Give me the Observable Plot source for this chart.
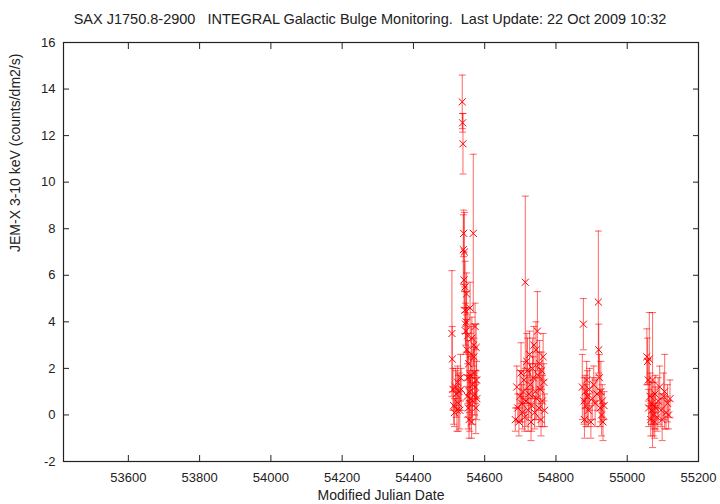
<!DOCTYPE html>
<html>
<head>
<meta charset="utf-8">
<script src="https://cdn.jsdelivr.net/npm/d3@7"></script>
<script src="https://cdn.jsdelivr.net/npm/@observablehq/plot@0.6"></script>
<style>
  html, body { margin: 0; padding: 0; background: #fff; }
  #chart svg { display: block; }
</style>
</head>
<body>
<div id="chart"></div>
<script>
// Observation dates (MJD)
const mjd = [
  54508, 54509, 54511, 54513, 54515, 54518, 54520, 54522, 54524, 54526, 54528, 54530, 54532, 54534,
  54537, 54538, 54539, 54540, 54541, 54542, 54543, 54544, 54545, 54546, 54547, 54548, 54549, 54550,
  54551, 54552, 54553, 54554, 54555, 54556, 54557, 54558, 54559, 54560, 54561, 54562, 54563, 54564,
  54565, 54566, 54568, 54569, 54570, 54571, 54572, 54573, 54574, 54575, 54576, 54577, 54578,
  54686, 54690, 54693, 54696, 54699, 54702, 54704, 54706, 54708, 54710, 54712, 54714, 54716, 54718,
  54720, 54722, 54724, 54726, 54728, 54730, 54732, 54734, 54736, 54738, 54740, 54742, 54744, 54746,
  54748, 54750, 54752, 54754, 54756, 54758, 54760, 54762, 54764, 54766, 54768,
  54877, 54874, 54879, 54880, 54882, 54884, 54886, 54888, 54891, 54894, 54898, 54902, 54906, 54910,
  54915, 54919, 54920, 54922, 54924, 54926, 54928, 54930, 54932, 54935,
  55055, 55057, 55059, 55060, 55062, 55064, 55066, 55068, 55069, 55071, 55073, 55075, 55077, 55078,
  55080, 55084, 55087, 55091, 55095, 55098, 55102, 55105, 55109, 55113, 55116, 55120
];
// JEM-X 3-10 keV rate (counts/dm2/s)
const rate = [
  3.5, 2.4, 1.1, 0.4, 0.1, 1.2, 0.9, 0.2, 1.4, 0.5, 1.0, 0.2, 1.6, 1.1,
  13.45, 12.55, 11.65, 7.1, 7.8, 5.8, 7.0, 4.5, 5.5, 3.9, 3.6, 4.0, 5.2, 2.8,
  0.8, 3.4, 1.6, 0.3, 2.2, -0.2, 1.0, 0.5, 4.6, 1.7, 0.7, 2.6, -0.3, 3.3,
  1.3, 0.6, 7.8, 3.0, 2.5, 1.8, 0.9, 3.8, 1.2, 0.3, 2.9, 1.5, 0.7,
  -0.2, 1.2, 0.3, -0.3, 0.8, 1.8, 0.5, 0.1, 1.0, 1.5, -0.1, 5.7, 0.6, 2.3,
  1.9, 0.2, 0.9, 2.6, 1.3, -0.3, 0.4, 2.0, 1.6, 3.0, 0.1, 1.0, 2.8, 0.7,
  3.6, 1.7, 0.3, 2.2, 1.1, -0.2, 1.9, 0.6, 2.5, 1.4, 0.2,
  3.9, 1.2, 0.6, -0.2, 1.0, 0.4, 1.5, 0.8, 0.2, 1.1, -0.3, 0.7, 1.3, 0.5,
  0.9, 4.85, 2.8, 1.6, 0.3, 1.0, 0.0, 0.6, -0.3, 0.4,
  2.5, 2.3, 1.5, 0.3, 2.4, 0.8, -0.2, 0.5, 0.2, 1.5, 0.0, 0.4, -0.3, 0.9,
  0.3, -0.1, 0.6, 1.2, 0.2, -0.2, 0.8, 1.0, 0.1, 0.5, 0.0, 0.7
];
// 1-sigma errors
const err = [
  2.7, 1.4, 0.9, 0.8, 0.6, 0.8, 1.0, 0.9, 0.7, 1.2, 0.8, 0.8, 1.0, 0.9,
  1.15, 0.4, 1.3, 1.5, 1.0, 1.2, 1.7, 1.0, 1.1, 0.9, 1.0, 1.3, 0.9, 1.3,
  0.9, 1.2, 1.1, 0.9, 1.0, 0.8, 0.9, 1.2, 1.1, 0.8, 0.9, 1.2, 0.7, 0.9,
  1.3, 1.0, 3.4, 0.9, 0.8, 1.1, 0.9, 1.0, 0.7, 1.1, 1.0, 0.8, 0.9,
  0.5, 0.9, 0.6, 0.6, 1.1, 1.3, 0.8, 0.7, 0.9, 0.8, 0.6, 3.7, 1.1, 1.2,
  1.4, 0.9, 1.0, 1.0, 0.9, 0.8, 1.1, 1.3, 0.9, 0.8, 0.7, 1.2, 1.2, 0.9,
  1.7, 1.0, 0.8, 1.0, 0.9, 0.7, 0.8, 1.1, 1.0, 0.8, 0.7,
  1.1, 1.4, 1.0, 0.8, 0.7, 0.9, 0.8, 1.1, 0.7, 0.9, 0.7, 0.9, 0.8, 1.0,
  0.7, 3.05, 1.1, 1.0, 0.8, 1.3, 0.9, 0.7, 0.8, 0.6,
  1.2, 1.0, 0.9, 0.8, 2.0, 1.0, 0.7, 0.9, 0.6, 2.9, 0.9, 1.0, 0.7, 0.8,
  0.9, 0.6, 1.0, 0.9, 0.7, 0.9, 1.0, 1.6, 0.7, 0.8, 0.6, 0.8
];
const xTicks = [53600, 53800, 54000, 54200, 54400, 54600, 54800, 55000, 55200];
const yTicks = [-2, 0, 2, 4, 6, 8, 10, 12, 14, 16];
const titleText = "SAX J1750.8-2900   INTEGRAL Galactic Bulge Monitoring.  Last Update: 22 Oct 2009 10:32";
const xLabel = "Modified Julian Date";
const yLabel = "JEM-X 3-10 keV (counts/dm2/s)";

const data = mjd.map((d, i) => ({mjd: d, rate: rate[i], err: err[i]}));

const capSymbol = {
  draw(context, size) {
    const r = Math.sqrt(size / Math.PI);
    context.moveTo(-r, 0);
    context.lineTo(r, 0);
  }
};

const RED = "#ff0000";
const INK = "#222";

const chart = Plot.plot({
  width: 720,
  height: 504,
  marginLeft: 63,
  marginRight: 22,
  marginTop: 42,
  marginBottom: 43,
  style: {fontFamily: "'Liberation Sans', Arial, Helvetica, sans-serif", fontSize: "13px", color: INK, background: "#fff"},
  x: {domain: [53418, 55200]},
  y: {domain: [-2, 16]},
  marks: [
    Plot.axisX({anchor: "bottom", ticks: xTicks, tickSize: 0, tickPadding: 11, tickFormat: d => String(d), label: null, fill: INK}),
    Plot.axisX({anchor: "bottom", ticks: xTicks, tickSize: -6, tickFormat: () => "", label: null, stroke: INK}),
    Plot.axisX({anchor: "top", ticks: xTicks, tickSize: -6, tickFormat: () => "", label: null, stroke: INK}),
    Plot.axisY({anchor: "left", ticks: yTicks, tickSize: 0, tickPadding: 8, tickFormat: d => String(d), label: null, fill: INK}),
    Plot.axisY({anchor: "left", ticks: yTicks, tickSize: -6, tickFormat: () => "", label: null, stroke: INK}),
    Plot.axisY({anchor: "right", ticks: yTicks, tickSize: -6, tickFormat: () => "", label: null, stroke: INK}),
    Plot.ruleX(data, {x: "mjd", y1: d => d.rate - d.err, y2: d => d.rate + d.err, stroke: RED, strokeOpacity: 0.55, strokeWidth: 1.1}),
    Plot.dot(data, {x: "mjd", y: d => d.rate - d.err, symbol: capSymbol, r: 3.5, fill: "none", stroke: RED, strokeOpacity: 0.55, strokeWidth: 1.1}),
    Plot.dot(data, {x: "mjd", y: d => d.rate + d.err, symbol: capSymbol, r: 3.5, fill: "none", stroke: RED, strokeOpacity: 0.55, strokeWidth: 1.1}),
    Plot.dot(data, {x: "mjd", y: "rate", symbol: "times", r: 3.3, fill: "none", stroke: RED, strokeWidth: 1}),
    Plot.frame({stroke: INK, strokeWidth: 1.2}),
    Plot.text([titleText], {frameAnchor: "top", lineAnchor: "middle", dy: -23, dx: -11, fontSize: 14.5, fill: INK}),
    Plot.text([xLabel], {frameAnchor: "bottom", lineAnchor: "middle", dy: 34, fontSize: 14, fill: INK}),
    Plot.text([yLabel], {frameAnchor: "left", lineAnchor: "middle", dx: -48, rotate: -90, fontSize: 14, fill: INK})
  ]
});

document.getElementById("chart").appendChild(chart);
</script>
</body>
</html>
